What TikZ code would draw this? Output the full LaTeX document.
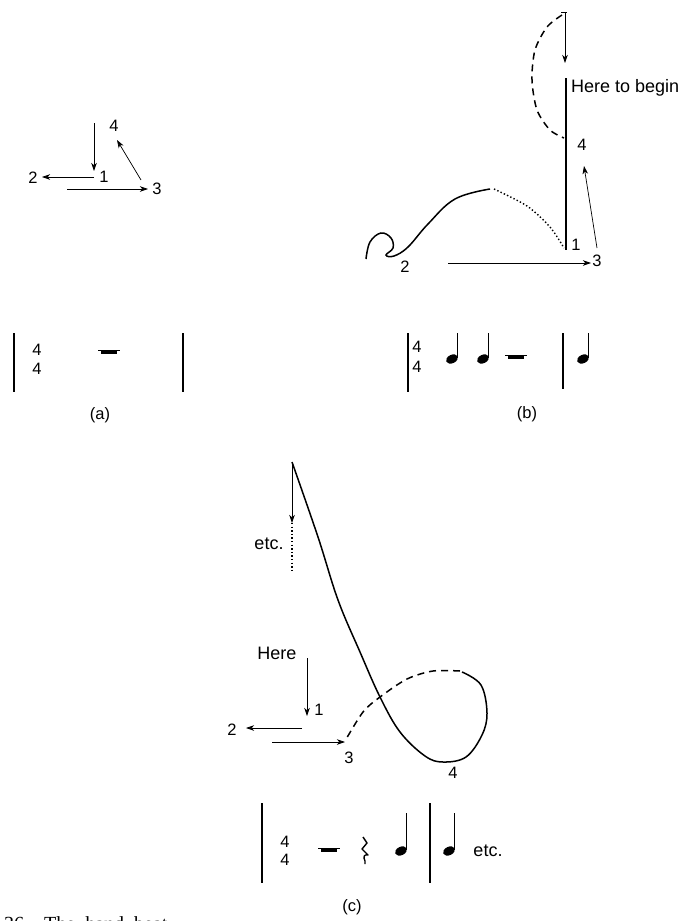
\documentclass[tikz,border=0pt]{standalone}
\usepackage{fontspec}
\setmainfont{Liberation Sans}
\newfontfamily\capfont{Liberation Serif}
\usetikzlibrary{arrows.meta}
\newcommand\mynote[3]{%
  \fill[rotate around={25:(#1,#2)}] (#1,#2) ellipse [x radius=6.3, y radius=4.2];
  \draw[stem] (#1+5.6,#2-1) -- (#1+5.6,#3);}
\newcommand\myrest[2]{%
  \fill (#1-8,#2-1.5) rectangle (#1+8,#2+2);
  \draw[line width=0.7pt] (#1-11,#2-1.5) -- (#1+11,#2-1.5);}
\begin{document}
\begin{tikzpicture}[x=1pt,y=-1pt,
  lbl/.style={inner sep=0pt, font=\fontsize{16.5}{16.5}\selectfont},
  word/.style={inner sep=0pt, font=\fontsize{18}{18}\selectfont},
  arr/.style={line width=0.7pt, -{Stealth[length=8pt,width=5.5pt,inset=2.2pt]}},
  bar/.style={line width=2pt},
  stem/.style={line width=1.3pt},
  curve/.style={line width=1.5pt},
  dashedcurve/.style={line width=1.5pt, dash pattern=on 7pt off 5pt},
  dottedcurve/.style={line width=1.4pt, dash pattern=on 1.4pt off 2.2pt},
]
\useasboundingbox (0,0) rectangle (686,921);
\clip (0,0) rectangle (686,921);

% ---------------- (a) ----------------
\node[lbl] (a1) at (104,177) {1};
\node[lbl] (a2) at (33,178) {2};
\node[lbl] (a3) at (157,189) {3};
\node[lbl] (a4) at (114,126) {4};
\coordinate (a1s) at (94,123);  \coordinate (a1t) at (94,171);
\coordinate (a2s) at (94,177);  \coordinate (a2t) at (42,177);
\coordinate (a3s) at (67,189);  \coordinate (a3t) at (148,189);
\coordinate (a4s) at (141,180); \coordinate (a4t) at (117,140);
\draw[arr] (a1s) -- (a1t);
\draw[arr] (a2s) -- (a2t);
\draw[arr] (a3s) -- (a3t);
\draw[arr] (a4s) -- (a4t);

\draw[bar] (14,333) -- (14,392);
\draw[bar] (183,333) -- (183,392);
\node[lbl] (ats1) at (37,350) {4};
\node[lbl] (ats2) at (37,369) {4};
\myrest{109}{352}
\node[word, font=\fontsize{16.5}{16.5}\selectfont] (capa) at (100,415) {(a)};

% ---------------- (b) ----------------
\coordinate (bts) at (565,12); \coordinate (btt) at (565,63);
\draw[arr] (bts) -- (btt);
\draw[line width=0.8pt] (561,12) -- (567,12);
\draw[dashedcurve] plot[smooth] coordinates {(562,15) (547,27) (535,50) (532,80) (537,110) (550,130) (564,138)};
\draw[line width=2pt] (566,78) -- (566,250);
\node[word, anchor=west] (begin) at (571,88) {Here to begin};
\node[lbl] (b4) at (582,145) {4};
\node[lbl] (b1) at (576,245) {1};
\node[lbl] (b3) at (597,261) {3};
\node[lbl] (b2) at (405,267) {2};
\coordinate (b4s) at (597,248); \coordinate (b4t) at (584,166);
\coordinate (b3s) at (448,263); \coordinate (b3t) at (591,263);
\draw[arr] (b4s) -- (b4t);
\draw[arr] (b3s) -- (b3t);
% loop and curve
\draw[curve] plot[smooth, tension=0.65] coordinates {(366,259) (370,242) (381,233) (391,238) (393,248) (386,255) (394,256) (408,247) (428,224) (455,199) (490,189)};
\draw[dottedcurve] plot[smooth] coordinates {(494,189) (527,206) (550,227) (564,248)};

\draw[bar] (408,333) -- (408,392);
\draw[bar] (563,333) -- (563,389);
\node[lbl] (bts1) at (417,347) {4};
\node[lbl] (bts2) at (417,367) {4};
\mynote{452}{359}{333}
\mynote{483}{359}{333}
\myrest{516}{357}
\mynote{583}{359}{333}
\node[word, font=\fontsize{16.5}{16.5}\selectfont] (capb) at (527,414) {(b)};

% ---------------- (c) ----------------
\coordinate (ctop) at (292,462); \coordinate (ctip) at (292,523);
\coordinate (cdot) at (292,570);
\draw[arr] (ctop) -- (ctip);
\draw[dottedcurve] (ctip) -- (cdot);
\node[word] (cetc) at (269,544) {etc.};
\draw[curve] plot[smooth, tension=0.6] coordinates {(292,462) (318,537) (338,600) (360,652) (380,697) (400,732) (425,756) (443,762) (466,757) (482,735) (487,713) (481,685) (462,672)};
\draw[dashedcurve] plot[smooth] coordinates {(460,671) (433,671) (407,679) (380,697) (363,712) (345,741)};
\node[word] (here) at (277,653) {Here};
\node[lbl] (c1) at (319,710) {1};
\node[lbl] (c2) at (232,730) {2};
\node[lbl] (c3) at (349,758) {3};
\node[lbl] (c4) at (453,773) {4};
\coordinate (c1s) at (307,658); \coordinate (c1t) at (307,716);
\coordinate (c2s) at (302,728); \coordinate (c2t) at (246,728);
\coordinate (c3s) at (272,742); \coordinate (c3t) at (345,742);
\draw[arr] (c1s) -- (c1t);
\draw[arr] (c2s) -- (c2t);
\draw[arr] (c3s) -- (c3t);

\draw[bar] (262,803) -- (262,883);
\draw[bar] (430,803) -- (430,883);
\node[lbl] (cts1) at (285,842) {4};
\node[lbl] (cts2) at (285,860) {4};
\myrest{329}{850}
\draw[line width=1.4pt, line join=round] (363,837) -- (367,843) -- (362,849) -- (368,855) .. controls (364,854) and (363,857) .. (365,861) -- (365,864);
\mynote{401}{851}{813}
\mynote{449}{851}{813}
\node[word] (cetc2) at (488,851) {etc.};
\node[word, font=\fontsize{16.5}{16.5}\selectfont] (capc) at (352,907) {(c)};

% caption (cut off at the bottom edge, as in the reference)
\node[anchor=base west, inner sep=0pt, font=\capfont\fontsize{20}{20}\selectfont] (caption) at (4,930) {36\quad The\ \ hand\ \ beat};
\end{tikzpicture}
\end{document}
